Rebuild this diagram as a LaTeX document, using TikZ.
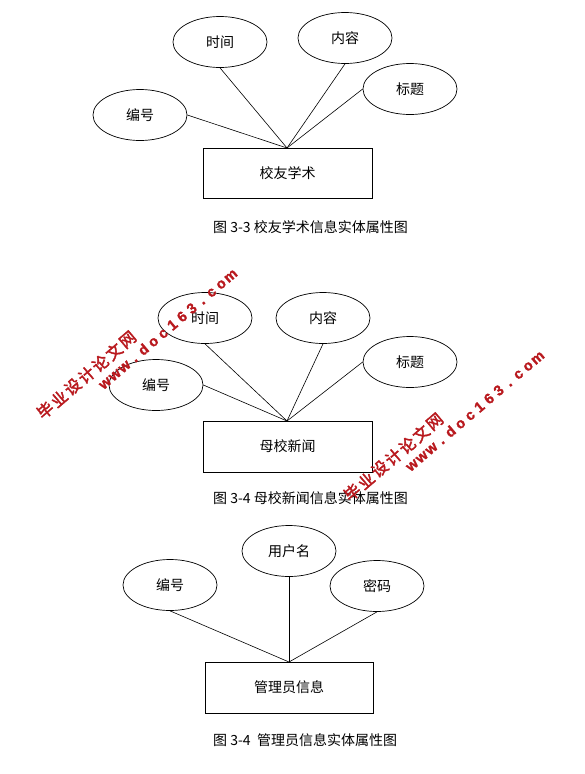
\documentclass[tikz,border=0pt]{standalone}
\usepackage{fontspec}
\usetikzlibrary{shapes.geometric}
\newfontfamily\cjk{Noto Sans CJK SC}
\newfontfamily\cjkwm{Noto Sans CJK SC}[FakeBold=2.5]
\newfontfamily\wmlatin{Liberation Sans}[FakeBold=1.5]
\definecolor{wmred}{RGB}{185,25,30}
\begin{document}
\begin{tikzpicture}[x=1pt,y=-1pt,
  attr/.style={ellipse,draw,line width=0.7pt,minimum width=94pt,minimum height=51pt,inner sep=0pt,font=\cjk\fontsize{14}{16}\selectfont},
  ent/.style={rectangle,draw,line width=0.8pt,minimum width=169pt,minimum height=50pt,inner sep=0pt,font=\cjk\fontsize{14}{16}\selectfont},
  conn/.style={line width=0.6pt},
  capt/.style={anchor=west,inner sep=0pt,font=\cjk\fontsize{14}{16}\selectfont},
  wmcn/.style={text=wmred,inner sep=0pt,font=\cjkwm\fontsize{16}{17}\selectfont,transform shape},
  wmen/.style={text=wmred,inner sep=0pt,anchor=base,font=\wmlatin\bfseries\fontsize{14.5}{16}\selectfont,transform shape}]
\path[use as bounding box,fill=white] (0,0) rectangle (585,774);

% ---------- Diagram 1 ----------
\node[ent] (e1) at (287.5,173) {校友学术};
\node[attr] (a1t) at (220,42) {时间};
\node[attr] (a1n) at (345,38) {内容};
\node[attr] (a1b) at (410,89) {标题};
\node[attr] (a1h) at (140,115) {编号};
\coordinate (c1) at (287,148);
\draw[conn] (a1t.south) -- (c1);
\draw[conn] (a1n.south) -- (c1);
\draw[conn] (a1b.west) -- (c1);
\draw[conn] (a1h.east) -- (c1);
\node[capt] (cap1) at (213,227) {图 3-3 校友学术信息实体属性图};

% ---------- Diagram 2 ----------
\node[ent,minimum height=51pt] (e2) at (287.5,446.5) {母校新闻};
\node[attr] (a2t) at (205,318) {时间};
\node[attr] (a2n) at (323,318) {内容};
\node[attr] (a2b) at (410,362) {标题};
\node[attr] (a2h) at (156,385) {编号};
\coordinate (c2) at (287,421);
\draw[conn] (a2t.south) -- (c2);
\draw[conn] (a2n.south) -- (c2);
\draw[conn] (a2b.west) -- (c2);
\draw[conn] (a2h.east) -- (c2);
\node[capt] (cap2) at (213,498) {图 3-4 母校新闻信息实体属性图};

% ---------- Diagram 3 ----------
\node[ent,minimum width=168pt,minimum height=51pt] (e3) at (289,687.5) {管理员信息};
\node[attr] (a3u) at (289,551) {用户名};
\node[attr] (a3h) at (170,585) {编号};
\node[attr] (a3p) at (377,586) {密码};
\coordinate (c3) at (289,662);
\draw[conn] (a3u.south) -- (c3);
\draw[conn] (a3h.south) -- (c3);
\draw[conn] (a3p.south) -- (c3);
\node[capt] (cap3) at (213,740) {图 3-4\ \ 管理员信息实体属性图};

% ---------- Watermarks ----------
\begin{scope}[shift={(86.5,375)},rotate=40.5]
  \foreach \c [count=\i from 0] in {毕,业,设,计,论,文,网}
    \node[wmcn] (wmA\i) at ({(\i-3)*18.1},0) {\c};
\end{scope}
\begin{scope}[shift={(167.5,329)},rotate=40.5]
  \foreach \c [count=\i from 0] in {w,w,w,.,d,o,c,1,6,3,.,c,o,m}
    \node[wmen] (wmB\i) at ({(\i-6.5)*12.7},5) {\c};
\end{scope}
\begin{scope}[shift={(393.5,457)},rotate=40.5]
  \foreach \c [count=\i from 0] in {毕,业,设,计,论,文,网}
    \node[wmcn] (wmC\i) at ({(\i-3)*18.1},0) {\c};
\end{scope}
\begin{scope}[shift={(474.5,411)},rotate=40.5]
  \foreach \c [count=\i from 0] in {w,w,w,.,d,o,c,1,6,3,.,c,o,m}
    \node[wmen] (wmD\i) at ({(\i-6.5)*12.7},5) {\c};
\end{scope}
\end{tikzpicture}
\end{document}
